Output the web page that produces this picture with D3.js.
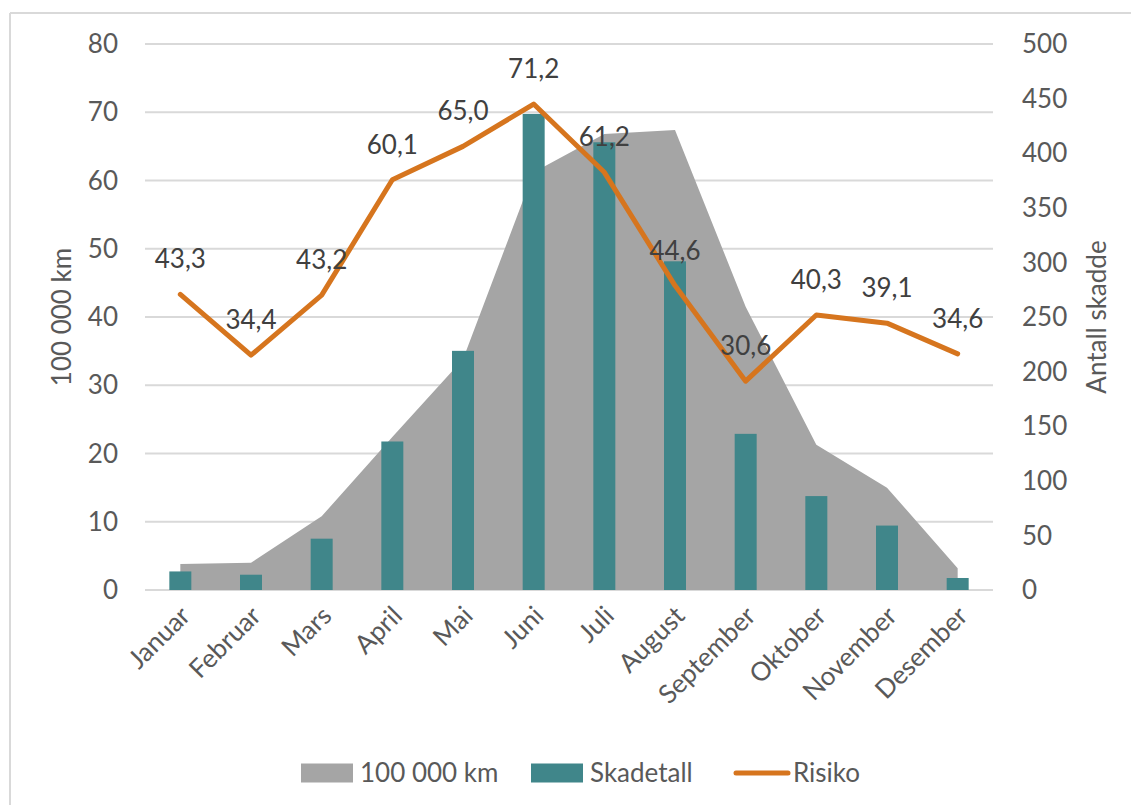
<!DOCTYPE html>
<html>
<head>
<meta charset="utf-8">
<script src="https://cdn.jsdelivr.net/npm/d3@7"></script>
<style>
  html, body { margin: 0; padding: 0; background: #fff; }
  svg { display: block; font-family: Lato, "Open Sans", sans-serif; }
</style>
</head>
<body>
<svg id="chart" width="1131" height="805"></svg>
<script>
// Months on the category axis
const months = ["Januar", "Februar", "Mars", "April", "Mai", "Juni",
                "Juli", "August", "September", "Oktober", "November", "Desember"];
// Driven distance per month, in 100 000 km (left axis)
const km = [3.8, 4.0, 10.8, 22.4, 33.8, 61.2, 66.8, 67.4, 41.5, 21.3, 15.0, 3.2];
// Number of injured per month (right axis)
const skadetall = [17, 14, 47, 136, 219, 436, 410, 301, 143, 86, 59, 11];
// Risk per month (left axis), shown with value labels
const risiko = [43.3, 34.4, 43.2, 60.1, 65.0, 71.2, 61.2, 44.6, 30.6, 40.3, 39.1, 34.6];
// Axis ticks
const leftTicks = [0, 10, 20, 30, 40, 50, 60, 70, 80];
const rightTicks = [0, 50, 100, 150, 200, 250, 300, 350, 400, 450, 500];

const svg = d3.select("#chart");
const plot = { left: 145, right: 993, top: 44, bottom: 590 };
const C = {
  area: "#A5A5A5",
  bar: "#40868A",
  line: "#D6751E",
  grid: "#D9D9D9",
  text: "#595959",
  label: "#404040"
};
const FS = 26;

const x = d3.scaleBand().domain(months).range([plot.left, plot.right]).padding(0);
const cx = m => x(m) + x.bandwidth() / 2;
const yL = d3.scaleLinear().domain([0, 80]).range([plot.bottom, plot.top]);
const yR = d3.scaleLinear().domain([0, 500]).range([plot.bottom, plot.top]);

// Chart frame
svg.append("line").attr("x1", 10).attr("x2", 10).attr("y1", 13).attr("y2", 805)
  .attr("stroke", C.grid).attr("stroke-width", 2);
svg.append("line").attr("x1", 10).attr("x2", 1131).attr("y1", 13).attr("y2", 13)
  .attr("stroke", C.grid).attr("stroke-width", 2);

// Horizontal gridlines
svg.append("g").selectAll("line").data(leftTicks).join("line")
  .attr("x1", plot.left).attr("x2", plot.right)
  .attr("y1", d => yL(d)).attr("y2", d => yL(d))
  .attr("stroke", C.grid).attr("stroke-width", 2);

// Left axis labels
svg.append("g").selectAll("text").data(leftTicks).join("text")
  .attr("x", 118).attr("y", d => yL(d)).attr("dy", "0.35em")
  .attr("text-anchor", "end").attr("font-size", FS).attr("fill", C.text)
  .text(d => d);

// Right axis labels
svg.append("g").selectAll("text").data(rightTicks).join("text")
  .attr("x", 1022).attr("y", d => yR(d)).attr("dy", "0.35em")
  .attr("text-anchor", "start").attr("font-size", FS).attr("fill", C.text)
  .text(d => d);

// Axis titles
svg.append("text")
  .attr("transform", `translate(62,${(plot.top + plot.bottom) / 2}) rotate(-90)`)
  .attr("text-anchor", "middle").attr("dy", "0.35em")
  .attr("font-size", FS).attr("fill", C.text).text("100 000 km");
svg.append("text")
  .attr("transform", `translate(1097,${(plot.top + plot.bottom) / 2}) rotate(-90)`)
  .attr("text-anchor", "middle").attr("dy", "0.35em")
  .attr("font-size", FS).attr("fill", C.text).text("Antall skadde");

// Category labels, rotated
svg.append("g").selectAll("text").data(months).join("text")
  .attr("transform", m => `translate(${cx(m) + 5},${plot.bottom + 21}) rotate(-45)`)
  .attr("text-anchor", "end").attr("dy", "0.35em")
  .attr("font-size", FS).attr("fill", C.text).text(m => m);

// Distance area
const area = d3.area()
  .x((d, i) => cx(months[i]))
  .y0(yL(0))
  .y1(d => yL(d));
svg.append("path").datum(km).attr("d", area).attr("fill", C.area);

// Injured bars
const barW = 22;
svg.append("g").selectAll("rect").data(skadetall).join("rect")
  .attr("x", (d, i) => cx(months[i]) - barW / 2)
  .attr("width", barW)
  .attr("y", d => yR(d))
  .attr("height", d => yR(0) - yR(d))
  .attr("fill", C.bar);

// Risk line
const line = d3.line().x((d, i) => cx(months[i])).y(d => yL(d));
svg.append("path").datum(risiko).attr("d", line)
  .attr("fill", "none").attr("stroke", C.line).attr("stroke-width", 5)
  .attr("stroke-linejoin", "round").attr("stroke-linecap", "round");

// Risk value labels
const fmt = d => d3.format(".1f")(d).replace(".", ",");
svg.append("g").selectAll("text").data(risiko).join("text")
  .attr("x", (d, i) => cx(months[i]))
  .attr("y", d => yL(d) - 26)
  .attr("text-anchor", "middle").attr("font-size", FS).attr("fill", C.label)
  .text(fmt);

// Legend
const legY = 773;
const legend = svg.append("g");
const legItems = [
  { name: "100 000 km", type: "rect", color: C.area, x: 301 },
  { name: "Skadetall", type: "rect", color: C.bar, x: 531 },
  { name: "Risiko", type: "line", color: C.line, x: 734 }
];
legItems.forEach(it => {
  if (it.type === "rect") {
    legend.append("rect").attr("x", it.x).attr("y", legY - 9.5)
      .attr("width", 52).attr("height", 19).attr("fill", it.color);
  } else {
    legend.append("line").attr("x1", it.x + 2).attr("x2", it.x + 54)
      .attr("y1", legY).attr("y2", legY)
      .attr("stroke", it.color).attr("stroke-width", 5).attr("stroke-linecap", "round");
  }
  legend.append("text").attr("x", it.x + 59).attr("y", legY)
    .attr("dy", "0.35em").attr("font-size", FS).attr("fill", C.text).text(it.name);
});
</script>
</body>
</html>
